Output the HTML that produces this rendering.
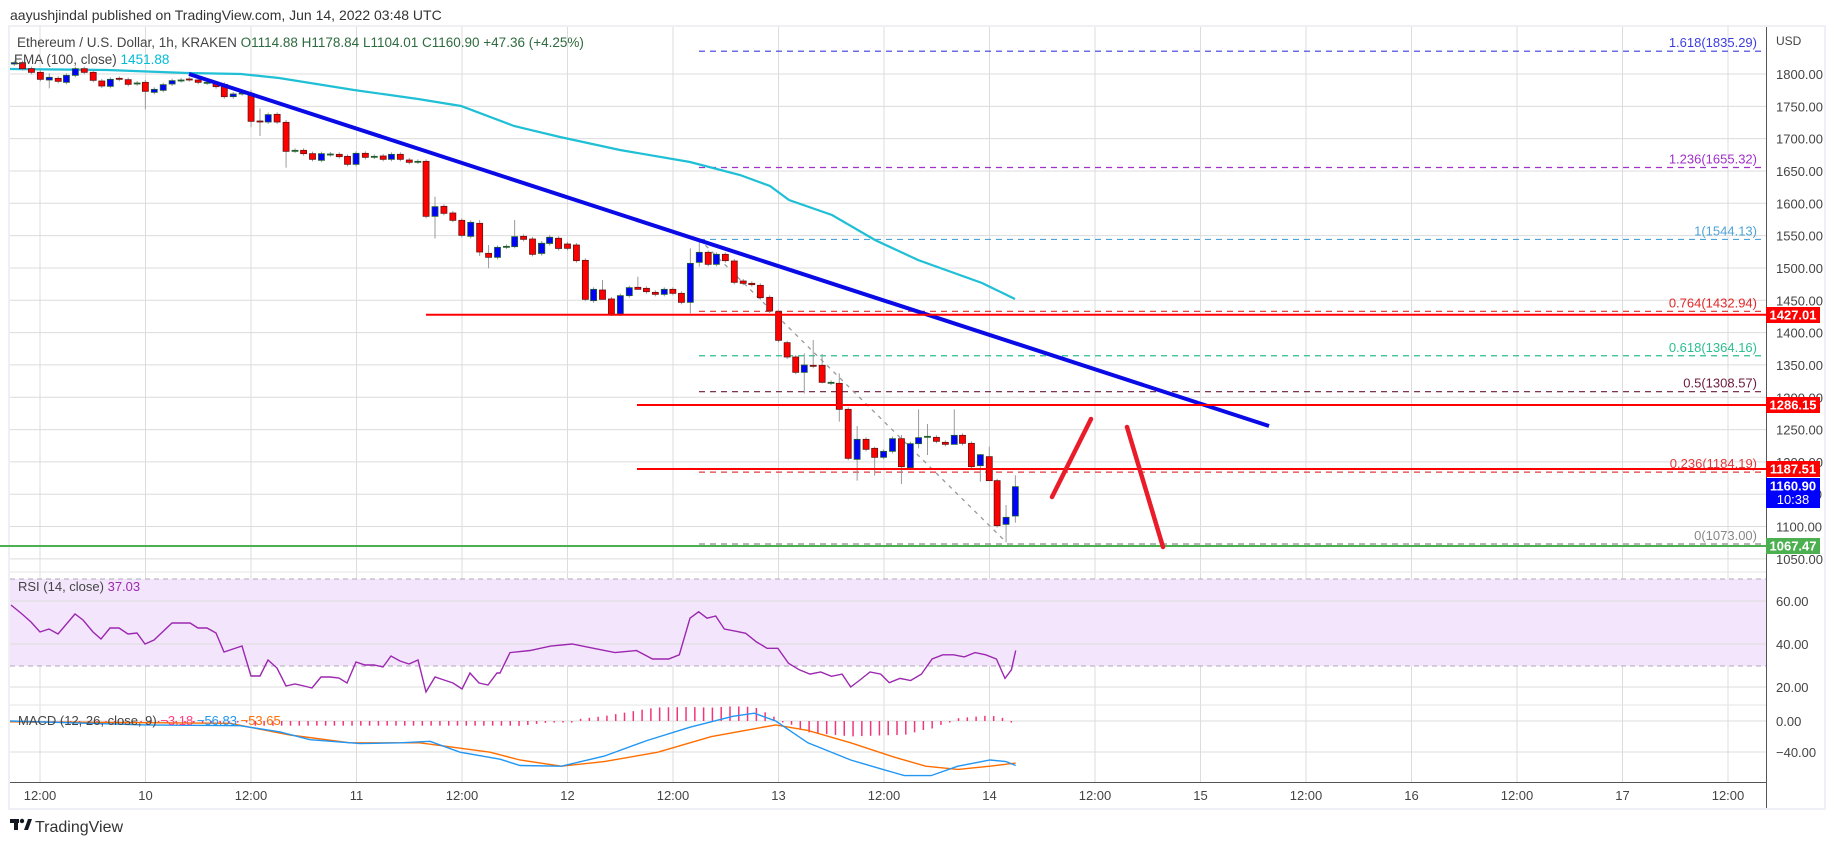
<!DOCTYPE html>
<html><head><meta charset="utf-8"><style>
html,body{margin:0;padding:0;background:#fff;width:1834px;height:845px;overflow:hidden}
svg{display:block;font-family:"Liberation Sans","DejaVu Sans",sans-serif}
</style></head><body>
<svg id="s" width="1834" height="845" viewBox="0 0 1834 845" xmlns="http://www.w3.org/2000/svg">
<rect x="0" y="0" width="1834" height="845" fill="#fff"/>
<rect x="9" y="26" width="1816" height="783" fill="#fff" stroke="#eef0f5" stroke-width="2"/>
<g id="grid"></g>
<rect x="10" y="579" width="1756" height="87" fill="#f3e6fc"/>
<line x1="10" y1="579" x2="1766" y2="579" stroke="#b0a8b8" stroke-dasharray="5,4"/>
<line x1="10" y1="666" x2="1766" y2="666" stroke="#b0a8b8" stroke-dasharray="5,4"/>
<g id="gridh"></g>
<g id="fib"></g>
<g id="cand"></g>
<g id="ind"></g>
<g id="axes"></g>
<text x="10" y="20" font-size="14" fill="#333">aayushjindal published on TradingView.com, Jun 14, 2022 03:48 UTC</text>
<text x="17" y="47" font-size="13.5" fill="#444">Ethereum / U.S. Dollar, 1h, KRAKEN <tspan fill="#2e6b3e">O1114.88 H1178.84 L1104.01 C1160.90 +47.36 (+4.25%)</tspan></text>
<text x="14" y="64" font-size="13.5" fill="#444">EMA (100, close) <tspan fill="#00bcd4">1451.88</tspan></text>
<text x="18" y="591" font-size="13" fill="#444">RSI (14, close) <tspan fill="#9c27b0">37.03</tspan></text>
<text x="18" y="725" font-size="13" fill="#444">MACD (12, 26, close, 9) <tspan fill="#ff3d7f">−3.18</tspan> <tspan fill="#2196f3">−56.83</tspan> <tspan fill="#ff6d00">−53.65</tspan></text>
<g transform="translate(10,819)"><rect x="0" y="0" width="9" height="4" fill="#131722"/><rect x="4" y="0" width="4" height="11" fill="#131722"/><circle cx="12" cy="2" r="2.2" fill="#131722"/><polygon points="14,11 18,0 22,0 18,11" fill="#131722"/></g>
<text x="35" y="832" font-size="16" fill="#333">TradingView</text>
</svg>
<script>
var NS="http://www.w3.org/2000/svg";
function el(p,t,a,txt){var e=document.createElementNS(NS,t);for(var k in a)e.setAttribute(k,a[k]);if(txt!==undefined)e.textContent=txt;document.getElementById(p).appendChild(e);return e;}
function Y(p){return 74+(1800-p)*0.6465;}
function sx(x){return x>540?540+(x-540)*1.0714:x;}
for(var k=0;k<=16;k++){var x=40+k*105.5;el('grid','line',{x1:x,y1:27,x2:x,y2:782,stroke:'#dcdcdc'});}
for(var p=1050;p<=1800;p+=50){el('grid','line',{x1:10,y1:Y(p),x2:1766,y2:Y(p),stroke:'#dcdcdc'});}
[601,644,687,721,752].forEach(function(y){el('gridh','line',{x1:10,y1:y,x2:1766,y2:y,stroke:'#dcdcdc'});});
el('gridh','line',{x1:10,y1:572,x2:1824,y2:572,stroke:'#e6e6e6'});
el('gridh','line',{x1:10,y1:705,x2:1824,y2:705,stroke:'#e6e6e6'});
var fibs=[[1835.29,'1.618(1835.29)','#3d3de0'],[1655.32,'1.236(1655.32)','#a030c8'],[1544.13,'1(1544.13)','#4fa3d8'],[1432.94,'0.764(1432.94)','#e02828'],[1364.16,'0.618(1364.16)','#2bbf8f'],[1308.57,'0.5(1308.57)','#6b1a3d'],[1184.19,'0.236(1184.19)','#e03a3a'],[1073,'0(1073.00)','#888']];
fibs.forEach(function(f){var y=Y(f[0]);el('fib','line',{x1:699,y1:y,x2:1766,y2:y,stroke:f[2],'stroke-dasharray':'6,5','stroke-width':1.2});el('fib','text',{x:1757,y:y-4,'font-size':13,fill:f[2],'text-anchor':'end'},f[1]);});
el('fib','line',{x1:699,y1:239,x2:1006,y2:542,stroke:'#999','stroke-dasharray':'4,5','stroke-width':1.3});
el('fib','polyline',{points:'10,69 107,70 187,73 241,74 279,78 354,90 418,99 461,106 514,126 560,137 620,150 690,162 740,175 770,186 789,200 832,215 875,240 918,260 982,283 1015,299',fill:'none',stroke:'#1fbfd6','stroke-width':2.2});
var A=[[40,68,72,'b'],[63,68,86,'r'],[88,86,97,'r'],[113,97,118,'r'],[138,112,120,'b',100,145],[163,115,124,'r'],[186,106,127,'b'],[211,86,106,'b'],[236,86,97,'r'],[261,97,121,'r'],[285,123,138,'r'],[309,118,139,'b'],[334,115,118,'r'],[359,119,133,'r'],[384,129,131,'d'],[407,127,154,'r',120,208],[432,148,157,'b'],[457,134,151,'b'],[482,122,132,'b'],[507,120,122,'d'],[530,117,119,'r'],[555,120,127,'r'],[580,127,129,'d'],[605,131,140,'r'],[628,133,170,'r'],[653,162,170,'b'],[678,159,161,'d'],[703,160,244,'r',150,262],[728,243,245,'r',205,288],[751,224,246,'b'],[776,223,246,'r'],[801,247,334,'r',240,383],[826,331,333,'d'],[850,331,341,'r'],[875,341,358,'r'],[900,341,361,'b'],[925,342,344,'d'],[950,343,350,'r'],[973,349,373,'r'],[997,340,373,'b'],[1023,340,352,'r'],[1048,349,351,'d'],[1073,348,358,'r'],[1096,343,358,'b'],[1121,343,358,'r'],[1146,360,367,'r'],[1170,364,366,'d'],[1193,364,529,'r'],[1218,500,529,'b',470,595],[1243,499,520,'r'],[1268,519,541,'r'],[1293,541,586,'r'],[1318,547,589,'b'],[1343,550,636,'r',540,648],[1368,640,652,'r',615,685],[1393,622,652,'b'],[1418,619,621,'d'],[1441,590,620,'b',540,625],[1466,589,598,'r'],[1491,597,643,'r'],[1516,610,640,'b'],[1539,592,610,'b'],[1564,595,625,'r']];
var B=[[5,130,160,'b'],[27,112,130,'b'],[52,115,145,'r'],[77,132,145,'r'],[102,135,182,'r'],[127,181,298,'r'],[150,268,302,'b'],[175,270,298,'r',240,298],[200,297,342,'r'],[225,287,342,'b'],[250,263,287,'b'],[274,262,268,'r',230,268],[298,265,275,'r'],[323,277,283,'r'],[348,268,283,'b'],[372,268,280,'r'],[396,280,307,'r'],[421,190,307,'b',145,340],[446,157,187,'b',118,200],[471,157,193,'r'],[494,163,193,'b'],[519,163,182,'r'],[544,183,247,'r'],[569,243,250,'r'],[593,250,254,'r'],[617,256,293,'r'],[643,292,333,'r'],[668,335,421,'r'],[692,428,471,'r'],[716,471,517,'r'],[740,495,517,'b',460,580],[765,496,499,'r',420,505],[790,496,547,'r',462,550],[815,547,549,'d'],[838,550,628,'r',520,665],[863,628,775,'r'],[888,718,778,'b',678,842],[913,718,748,'r'],[937,745,772,'r',740,827],[962,754,772,'b'],[987,716,754,'b'],[1012,716,800,'r',705,852],[1037,731,803,'b'],[1060,713,731,'b',628,745],[1085,709,711,'d',672,765],[1110,712,724,'r'],[1135,727,733,'r'],[1160,706,733,'b',628,733],[1183,706,730,'r'],[1208,730,800,'r'],[1233,764,797,'b',762,845],[1258,770,842,'r',740,842],[1280,842,977,'r'],[1305,952,973,'b',915,1027],[1331,860,948,'b',826,968]];
function draw(list,ox,oy){list.forEach(function(c){var x=ox+c[0]/2.8,t=oy+c[1]/3,b=oy+c[2]/3;var hi=c[4]!==undefined?oy+c[4]/3:t-2,lo=c[5]!==undefined?oy+c[5]/3:b+2;
el('cand','line',{x1:x,y1:hi,x2:x,y2:lo,stroke:'#9a9a9a'});
var fill=c[3]=='b'?'#0000ff':(c[3]=='r'?'#ff0000':'#1e5e2e'),st=c[3]=='b'?'#1e5e2e':(c[3]=='r'?'#6a1010':'#1e5e2e');
el('cand','rect',{x:x-3,y:t,width:6,height:Math.max(1,b-t),fill:fill,stroke:st,'stroke-width':0.8});});}
draw(A,0,40);draw(B,540,200);
el('ind','line',{x1:189,y1:74,x2:1269,y2:426,stroke:'#0a0ae6','stroke-width':4});
el('ind','line',{x1:426,y1:314.7,x2:1766,y2:314.7,stroke:'#ff0000','stroke-width':2});
el('ind','line',{x1:637,y1:405,x2:1766,y2:405,stroke:'#ff0000','stroke-width':2});
el('ind','line',{x1:637,y1:469,x2:1766,y2:469,stroke:'#ff0000','stroke-width':2});
el('ind','line',{x1:0,y1:546,x2:1766,y2:546,stroke:'#4caf50','stroke-width':2});
el('ind','line',{x1:1052,y1:497,x2:1091,y2:419,stroke:'#ea1c2a','stroke-width':4.5,'stroke-linecap':'round'});
el('ind','line',{x1:1127,y1:427,x2:1163,y2:547,stroke:'#ea1c2a','stroke-width':4.5,'stroke-linecap':'round'});
var rsi='11,605 22,614 31,622 40,632 49,629 58,634 75,614 83,620 93,632 101,639 110,628 119,628 128,634 137,633 145,644 154,640 172,623 190,623 198,628 207,628 216,633 224,652 242,646 251,676 260,676 268,660 277,668 286,686 295,684 304,686 312,688 321,677 330,677 339,678 347,683 356,662 365,665 374,665 383,667 391,656 400,661 409,664 418,660 426,692 435,677 444,680 453,683 462,689 470,673 479,683 488,685 497,673 500,673';
var rv=[[510,36],[530,37],[550,39],[570,40],[590,38],[610,36],[630,37],[645,33],[660,33],[670,35],[680,52],[688,55],[696,52],[704,53],[712,47],[722,46],[732,45],[742,41],[752,38],[762,38],[772,31],[782,28],[792,26],[802,27],[812,25],[822,26],[830,20],[838,23],[848,27],[858,26],[866,22],[876,24],[886,23],[896,26],[906,33],[916,35],[926,35],[936,34],[946,36],[956,35],[966,33],[974,24],[980,28],[984,37]];
rv.forEach(function(r){rsi+=' '+sx(r[0]).toFixed(1)+','+(601+(60-r[1])*2.15).toFixed(1);});
el('ind','polyline',{points:rsi,fill:'none',stroke:'#9c27b0','stroke-width':1.4});
function my(v){return 721-v*0.78;}
var bl=[[10,0],[145,-5],[240,-6],[280,-14],[310,-24],[360,-29],[400,-28],[430,-26],[460,-40],[500,-49],[520,-57],[560,-58],[600,-45],[640,-25],[680,-8],[720,6],[740,10],[760,0],[790,-28],[830,-50],[860,-62],[880,-70],[905,-70],[930,-58],[960,-50],[975,-52],[984,-57]];
var or=[[10,-1],[230,-3],[290,-18],[350,-28],[420,-28],[490,-40],[520,-50],[560,-58],[600,-52],[650,-40],[700,-20],[740,-10],[760,-5],[790,-12],[830,-28],[870,-46],[900,-58],[930,-62],[960,-58],[984,-54]];
bl=bl.map(function(p){return [sx(p[0]),p[1]]});or=or.map(function(p){return [sx(p[0]),p[1]]});
function interp(a,x){for(var i=1;i<a.length;i++){if(x<=a[i][0]){var t=(x-a[i-1][0])/(a[i][0]-a[i-1][0]);return a[i-1][1]+t*(a[i][1]-a[i-1][1]);}}return a[a.length-1][1];}
for(var x=18;x<=1016;x+=8.79){var h=(interp(bl,x)-interp(or,x))*0.9;if(x>250&&x<520)h=Math.min(h,-6);var y0=721,y1=721-h*0.78;el('ind','line',{x1:x,y1:y0,x2:x,y2:(Math.abs(y1-y0)<1.5?y0+1.5:y1),stroke:'#f2357a','stroke-width':1.5});}
el('ind','polyline',{points:or.map(function(p){return p[0]+','+my(p[1]).toFixed(1)}).join(' '),fill:'none',stroke:'#ff6d00','stroke-width':1.4});
el('ind','polyline',{points:bl.map(function(p){return p[0]+','+my(p[1]).toFixed(1)}).join(' '),fill:'none',stroke:'#2196f3','stroke-width':1.4});
el('axes','rect',{x:1767,y:27,width:57,height:781,fill:'#fff'});
el('axes','rect',{x:10,y:783,width:1757,height:25,fill:'#fff'});
el('axes','line',{x1:1766.5,y1:27,x2:1766.5,y2:808,stroke:'#555','stroke-width':1});
el('axes','line',{x1:10,y1:782.5,x2:1766,y2:782.5,stroke:'#555','stroke-width':1});
el('axes','text',{x:1776,y:45,'font-size':12,fill:'#444'},'USD');
for(var p=1050;p<=1800;p+=50){el('axes','text',{x:1776,y:Y(p)+5,'font-size':13,fill:'#444'},p.toFixed(2));}
[[601,'60.00'],[644,'40.00'],[687,'20.00'],[721,'0.00'],[752,'−40.00']].forEach(function(a){el('axes','text',{x:1776,y:a[0]+5,'font-size':13,fill:'#444'},a[1]);});
var tl=['12:00','10','12:00','11','12:00','12','12:00','13','12:00','14','12:00','15','12:00','16','12:00','17','12:00'];
tl.forEach(function(t,k){el('axes','text',{x:40+k*105.5,y:800,'font-size':13,fill:'#444','text-anchor':'middle'},t);});
function box(y,h,c,t,t2){el('axes','rect',{x:1766,y:y,width:54,height:h,fill:c});el('axes','text',{x:1793,y:y+12.5,'font-size':13,'font-weight':'bold',fill:'#fff','text-anchor':'middle'},t);if(t2)el('axes','text',{x:1793,y:y+26,'font-size':13,fill:'#fff','text-anchor':'middle'},t2);}
box(307,16,'#ff0000','1427.01');box(397,16,'#ff0000','1286.15');box(461,16,'#ff0000','1187.51');box(478,30,'#0000ff','1160.90','10:38');box(538,16,'#4caf50','1067.47');
</script>
</body></html>
